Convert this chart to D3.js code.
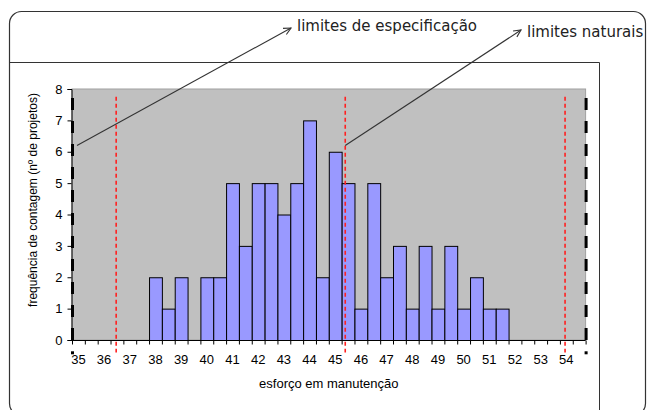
<!DOCTYPE html>
<html>
<head>
<meta charset="utf-8">
<script src="https://cdn.jsdelivr.net/npm/d3@7"></script>
<style>
  html, body { margin: 0; padding: 0; background: #fff; }
  svg { display: block; }
  text { font-family: "Liberation Sans", Arial, sans-serif; fill: #000; }
  .note { font-family: "DejaVu Sans", Verdana, sans-serif; fill: #222; }
</style>
</head>
<body>
<svg id="chart" width="647" height="410"></svg>
<script>
// Histogram bins (esforço em manutenção), half-unit classes
const binStarts = [35, 35.5, 36, 36.5, 37, 37.5, 38, 38.5, 39, 39.5,
                   40, 40.5, 41, 41.5, 42, 42.5, 43, 43.5, 44, 44.5,
                   45, 45.5, 46, 46.5, 47, 47.5, 48, 48.5, 49, 49.5,
                   50, 50.5, 51, 51.5, 52, 52.5, 53, 53.5, 54, 54.5];
const counts    = [0, 0, 0, 0, 0, 0, 2, 1, 2, 0,
                   2, 2, 5, 3, 5, 5, 4, 5, 7, 2,
                   6, 5, 1, 5, 2, 3, 1, 3, 1, 3,
                   1, 2, 1, 1, 0, 0, 0, 0, 0, 0];
const xTickLabels = [35, 36, 37, 38, 39, 40, 41, 42, 43, 44, 45, 46, 47, 48, 49, 50, 51, 52, 53, 54];
const yTicks = [0, 1, 2, 3, 4, 5, 6, 7, 8];
// limites naturais (inferior, central, superior) and limites de especificação
const naturalLimits = [36.47, 45.39, 53.95];
const specLimits = [34.75, 54.75];

const svg = d3.select("#chart");

// chart frames
svg.append("rect")
  .attr("x", 9.5).attr("y", 11.5).attr("width", 636).attr("height", 404)
  .attr("rx", 12).attr("ry", 12)
  .attr("fill", "none").attr("stroke", "#333").attr("stroke-width", 1.2);
svg.append("path")
  .attr("d", "M9.5,62.5 H599.5 V412")
  .attr("fill", "none").attr("stroke", "#333").attr("stroke-width", 1);

const plotL = 72, plotR = 585.6, plotT = 89, plotB = 340;

const x = d3.scaleBand().domain(binStarts).range([plotL, plotR]).padding(0);
const xv = d3.scaleLinear().domain([specLimits[0], specLimits[1]]).range([plotL, plotR]);
const y = d3.scaleLinear().domain([0, 8]).range([plotB, plotT]);

// plot area
svg.append("rect")
  .attr("x", plotL).attr("y", plotT)
  .attr("width", plotR - plotL).attr("height", plotB - plotT)
  .attr("fill", "#c0c0c0").attr("stroke", "#a0a0a0").attr("stroke-width", 1);

// bars
svg.append("g").selectAll("rect")
  .data(binStarts.map((b, i) => ({ b, c: counts[i] })).filter(d => d.c > 0))
  .join("rect")
  .attr("x", d => x(d.b) + 0.5)
  .attr("y", d => y(d.c) + 0.5)
  .attr("width", x.bandwidth())
  .attr("height", d => y(0) - y(d.c))
  .attr("fill", "#9999ff")
  .attr("stroke", "#000")
  .attr("stroke-width", 1);

// natural limits (red dashed)
svg.append("g").selectAll("line")
  .data(naturalLimits)
  .join("line")
  .attr("x1", d => xv(d)).attr("x2", d => xv(d))
  .attr("y1", y(7.75)).attr("y2", y(-0.4))
  .attr("stroke", "#ff2020").attr("stroke-width", 1.6)
  .attr("stroke-dasharray", "4,3");

// y axis
const yAxis = svg.append("g").attr("transform", `translate(${plotL - 0.5},0)`)
  .call(d3.axisLeft(y).tickValues(yTicks).tickSize(4).tickPadding(5).tickFormat(d3.format("d")));
yAxis.select(".domain").attr("stroke", "#000");
yAxis.selectAll(".tick line").attr("stroke", "#000");
yAxis.selectAll("text").attr("font-size", 13).attr("fill", "#000")
  .attr("font-family", "Liberation Sans, Arial, sans-serif");

// x axis: ticks between classes, labels on whole-number classes
const xAxisG = svg.append("g").attr("transform", `translate(0,${plotB + 0.5})`);
xAxisG.append("line")
  .attr("x1", plotL).attr("x2", plotR).attr("y1", 0).attr("y2", 0)
  .attr("stroke", "#000");
xAxisG.selectAll("line.tk")
  .data(binStarts.concat([55]))
  .join("line").attr("class", "tk")
  .attr("x1", (d, i) => plotL + i * x.bandwidth() + 0.5)
  .attr("x2", (d, i) => plotL + i * x.bandwidth() + 0.5)
  .attr("y1", 0).attr("y2", 4)
  .attr("stroke", "#000");
xAxisG.selectAll("text")
  .data(xTickLabels)
  .join("text")
  .attr("x", d => x(d) + x.bandwidth() / 2)
  .attr("y", 23)
  .attr("text-anchor", "middle")
  .attr("font-size", 13)
  .text(d => d);

// limites de especificação (black heavy dashed, at plot edges)
svg.append("g").selectAll("line")
  .data(specLimits)
  .join("line")
  .attr("x1", d => xv(d) + 0.5).attr("x2", d => xv(d) + 0.5)
  .attr("y1", y(0)).attr("y2", y(7.85))
  .attr("stroke", "#000").attr("stroke-width", 3)
  .attr("stroke-dasharray", "12,11");
svg.append("g").selectAll("rect")
  .data(specLimits)
  .join("rect")
  .attr("x", d => xv(d) - 1).attr("y", y(-0.36))
  .attr("width", 3).attr("height", 3)
  .attr("fill", "#000");

// axis titles
svg.append("text")
  .attr("x", (plotL + plotR) / 2).attr("y", 388)
  .attr("text-anchor", "middle").attr("font-size", 13)
  .text("esforço em manutenção");
svg.append("text")
  .attr("transform", `translate(37,${200}) rotate(-90)`)
  .attr("text-anchor", "middle").attr("font-size", 12)
  .text("frequência de contagem (nº de projetos)");

// annotations with arrows
function arrow(x1, y1, x2, y2) {
  const g = svg.append("g").attr("stroke", "#333").attr("stroke-width", 1.1).attr("fill", "none");
  g.append("line").attr("x1", x1).attr("y1", y1).attr("x2", x2).attr("y2", y2);
  const a = Math.atan2(y2 - y1, x2 - x1), L = 8, w = 0.45;
  g.append("path").attr("d",
    `M${x2 - L * Math.cos(a - w)},${y2 - L * Math.sin(a - w)} L${x2},${y2} L${x2 - L * Math.cos(a + w)},${y2 - L * Math.sin(a + w)}`);
}
arrow(xv(specLimits[0]) + 5, y(6.2), 291, 28);
arrow(xv(naturalLimits[1]), y(6.2), 521, 30);

svg.append("text").attr("class", "note")
  .attr("x", 297).attr("y", 31).attr("font-size", 15)
  .text("limites de especificação");
svg.append("text").attr("class", "note")
  .attr("x", 527).attr("y", 37).attr("font-size", 15)
  .text("limites naturais");
</script>
</body>
</html>
